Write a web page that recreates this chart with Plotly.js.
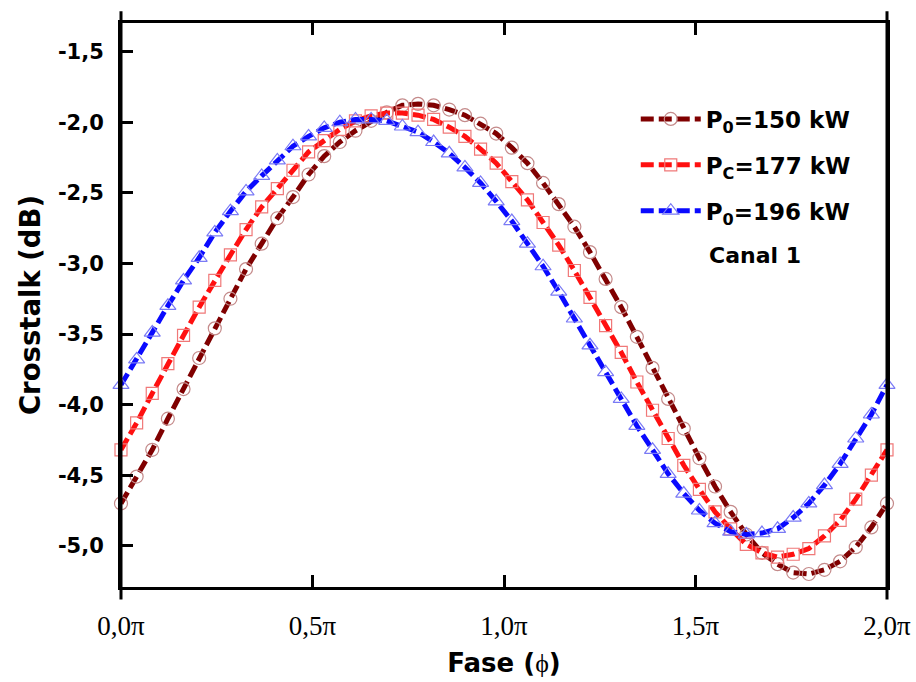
<!DOCTYPE html>
<html>
<head>
<meta charset="utf-8">
<script src="https://cdn.plot.ly/plotly-3.0.1.min.js"></script>
<style>html,body{margin:0;padding:0;background:#fff;}#chart{width:916px;height:682px;}</style>
</head>
<body>
<div id="chart"></div>
<script>
// Phase in units of pi (50 samples from 0 to 2 pi)
const phase = [0, 0.0408, 0.0816, 0.1224, 0.1633, 0.2041, 0.2449, 0.2857, 0.3265, 0.3673,
  0.4082, 0.4490, 0.4898, 0.5306, 0.5714, 0.6122, 0.6531, 0.6939, 0.7347, 0.7755,
  0.8163, 0.8571, 0.8980, 0.9388, 0.9796, 1.0204, 1.0612, 1.1020, 1.1429, 1.1837,
  1.2245, 1.2653, 1.3061, 1.3469, 1.3878, 1.4286, 1.4694, 1.5102, 1.5510, 1.5918,
  1.6327, 1.6735, 1.7143, 1.7551, 1.7959, 1.8367, 1.8776, 1.9184, 1.9592, 2.0000];

// Crosstalk (dB)
const p150 = [-4.70, -4.51, -4.32, -4.10, -3.89, -3.67, -3.46, -3.25, -3.04, -2.86,
  -2.68, -2.53, -2.37, -2.24, -2.14, -2.06, -1.99, -1.93, -1.88, -1.87,
  -1.88, -1.91, -1.95, -2.01, -2.08, -2.18, -2.29, -2.43, -2.58, -2.74,
  -2.92, -3.11, -3.31, -3.52, -3.74, -3.96, -4.17, -4.38, -4.58, -4.76,
  -4.92, -5.05, -5.13, -5.19, -5.20, -5.17, -5.11, -5.01, -4.87, -4.70];
const p177 = [-4.32, -4.13, -3.92, -3.71, -3.51, -3.31, -3.12, -2.94, -2.76, -2.60,
  -2.47, -2.34, -2.21, -2.13, -2.05, -1.99, -1.955, -1.935, -1.935, -1.95,
  -1.98, -2.035, -2.10, -2.19, -2.29, -2.42, -2.55, -2.71, -2.87, -3.05,
  -3.24, -3.44, -3.63, -3.84, -4.04, -4.24, -4.43, -4.60, -4.76, -4.88,
  -4.99, -5.05, -5.08, -5.06, -5.02, -4.93, -4.82, -4.67, -4.50, -4.32];
const p196 = [-3.86, -3.68, -3.49, -3.30, -3.12, -2.96, -2.78, -2.63, -2.49, -2.38,
  -2.27, -2.17, -2.10, -2.04, -2.00, -1.98, -1.98, -1.99, -2.03, -2.07,
  -2.14, -2.22, -2.32, -2.43, -2.56, -2.70, -2.86, -3.02, -3.20, -3.39,
  -3.58, -3.77, -3.96, -4.15, -4.32, -4.49, -4.63, -4.75, -4.84, -4.90,
  -4.92, -4.91, -4.88, -4.80, -4.70, -4.57, -4.42, -4.24, -4.07, -3.86];

const seriesNames = ['P<sub>0</sub>=150 kW', 'P<sub>C</sub>=177 kW', 'P<sub>0</sub>=196 kW'];
const xTickVals = [0, 0.5, 1, 1.5, 2];
const xTickText = ['0,0π', '0,5π', '1,0π', '1,5π', '2,0π'];
const yTickVals = [-5, -4.5, -4, -3.5, -3, -2.5, -2, -1.5];
const yTickText = ['-5,0', '-4,5', '-4,0', '-3,5', '-3,0', '-2,5', '-2,0', '-1,5'];

const dashPat = '13px,5px';
function mk(y, name, lineColor, sym, markColor, msize, grp) {
  return {
    x: phase, y: y, name: name, type: 'scatter', mode: 'lines+markers',
    legendgroup: grp, cliponaxis: false,
    line: {color: lineColor, width: 5, dash: dashPat},
    marker: {symbol: sym, size: msize, color: 'rgba(255,255,255,0)',
             line: {color: markColor, width: 1.2}}
  };
}
const data = [
  mk(p150, seriesNames[0], '#800000', 'circle', '#c48a8a', 13, 'a'),
  mk(p177, seriesNames[1], '#ff1010', 'square', '#f07878', 12, 'b'),
  mk(p196, seriesNames[2], '#0a0aff', 'triangle-up', '#7a7af5', 14, 'c')
];

const boldSans = {family: '"DejaVu Sans", Arial, sans-serif', weight: 'bold', color: '#000'};
const layout = {
  width: 916, height: 682,
  margin: {l: 121, r: 29, t: 23, b: 95},
  paper_bgcolor: '#fff', plot_bgcolor: '#fff',
  showlegend: true,
  legend: {x: 0.672, y: 0.868, xanchor: 'left', yanchor: 'top',
    bgcolor: 'rgba(0,0,0,0)', borderwidth: 0, itemwidth: 60, tracegroupgap: 13,
    font: Object.assign({}, boldSans, {size: 23})},
  xaxis: {range: [0, 2], tickvals: xTickVals, ticktext: xTickText,
    ticks: 'inside', ticklen: 12, tickwidth: 3, tickcolor: '#000',
    showline: true, linewidth: 3, linecolor: '#000', mirror: 'ticks',
    showgrid: false, zeroline: false, ticklabelstandoff: 13,
    tickfont: {family: '"Liberation Serif", "Times New Roman", serif', size: 27, color: '#000'},
    title: {text: 'Fase (<span style="font-family:\'Liberation Serif\';font-weight:normal">ϕ</span>)',
      font: Object.assign({}, boldSans, {size: 26}), standoff: 14}},
  yaxis: {range: [-5.292, -1.297], tickvals: yTickVals, ticktext: yTickText,
    ticks: 'inside', ticklen: 12, tickwidth: 3, tickcolor: '#000',
    showline: true, linewidth: 3, linecolor: '#000', mirror: true,
    showgrid: false, zeroline: false, ticklabelstandoff: 10,
    tickfont: Object.assign({}, boldSans, {size: 21}),
    title: {text: 'Crosstalk (dB)', font: Object.assign({}, boldSans, {size: 27.5}), standoff: 10}},
  shapes: [
    {type: 'line', xref: 'paper', yref: 'paper', x0: 0, x1: 0, y0: -0.022, y1: 1.021, line: {color: '#000', width: 3}, layer: 'above'},
    {type: 'line', xref: 'paper', yref: 'paper', x0: 1, x1: 1, y0: -0.022, y1: 1.021, line: {color: '#000', width: 3}, layer: 'above'}
  ],
  annotations: [
    {text: 'Canal 1', xref: 'paper', yref: 'paper', x: 0.828, y: 0.587, showarrow: false,
     xanchor: 'center', yanchor: 'middle', font: Object.assign({}, boldSans, {size: 22})}
  ]
};
Plotly.newPlot('chart', data, layout, {displayModeBar: false, staticPlot: true});
</script>
</body>
</html>
